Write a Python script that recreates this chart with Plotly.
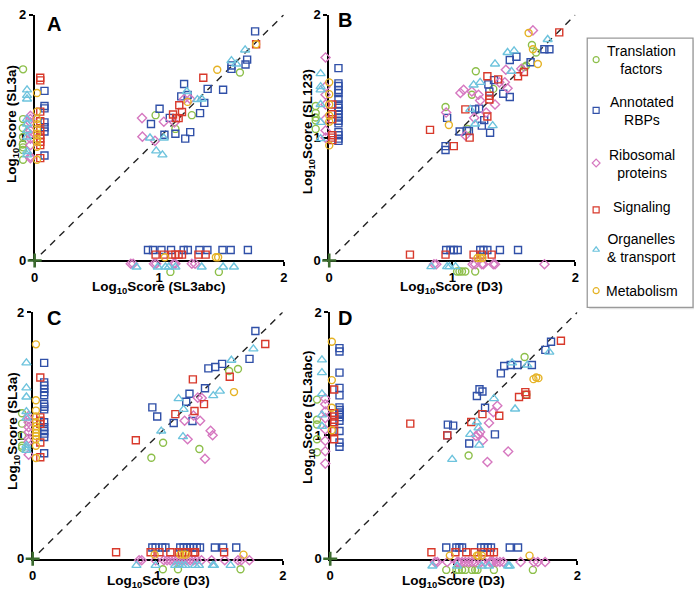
import plotly.graph_objects as go

# ---------------- categories / style ----------------
CATEGORIES = ["Translation factors", "Annotated RBPs", "Ribosomal proteins",
              "Signaling", "Organelles & transport", "Metabolism"]
LEGEND_TEXT = ["Translation<br>factors", "Annotated<br>RBPs", "Ribosomal<br>proteins",
               "Signaling", "Organelles<br>& transport", "Metabolism"]
COLORS = ["#8DBF4A", "#3050A8", "#D678C0", "#D8392B", "#6DC3DD", "#E5B224"]
SYMBOLS = ["circle-open", "square-open", "diamond-open", "square-open",
           "triangle-up-open", "circle-open"]
SIZES = [7, 7, 7, 7, 8, 7]

TICKS = [0, 1, 2]
TICK_LABELS = ["0", "1", "2"]
DIAG = [0.05, 2.0]
ORIGIN = [0]

PANEL_LABELS = ["A", "B", "C", "D"]
X_TITLES = ["SL3abc", "D3", "D3", "D3"]
Y_TITLES = ["SL3a", "SL123", "SL3a", "SL3abc"]

# ---------------- Panel A : SL3abc (x) vs SL3a (y) ----------------
A_TF = [(0.971, 1.183), (1.262, 1.183), (1.13, 1.071), (1.648, 1.53),
        (-0.093, 1.556), (-0.093, 1.151), (-0.095, 1.079), (-0.093, 1.005), (-0.095, 0.944),
        (-0.093, 0.921), (-0.095, 0.899), (-0.093, 0.82),
        (1.09, -0.093), (1.479, -0.093)]
A_RBP = [(1.77, 1.865), (1.706, 1.635), (1.693, 1.595), (1.58, 1.587), (1.58, 1.56),
         (1.513, 1.39), (1.389, 1.397), (1.2, 1.437), (1.228, 1.347), (1.177, 1.336),
         (1.362, 1.283), (1.003, 1.235), (1.085, 1.161), (1.328, 1.2), (0.934, 1.111),
         (1.042, 1.024), (1.13, 1.032), (1.249, 1.045), (1.209, 0.992),
         (0.079, 1.381), (0.079, 1.257), (0.079, 1.238), (0.079, 1.124), (0.079, 1.085),
         (0.079, 1.05), (0.079, 0.855),
         (0.91, 0.085), (0.95, 0.085), (1.018, 0.085), (1.095, 0.085), (1.196, 0.085),
         (1.23, 0.085), (1.323, 0.085), (1.387, 0.085), (1.508, 0.085), (1.574, 0.085),
         (1.712, 0.085)]
A_RIB = [(1.2, 1.315), (1.249, 1.315), (0.862, 1.159), (1.037, 1.13), (1.122, 1.124),
         (0.865, 1.008), (0.966, 0.974),
         (-0.034, 1.177), (-0.034, 1.151), (-0.034, 1.124), (-0.034, 1.058), (-0.034, 1.026),
         (-0.034, 0.992), (-0.034, 0.939), (-0.034, 0.847), (-0.034, 0.833),
         (0.772, -0.026), (0.791, -0.026), (0.958, -0.026), (0.976, -0.026), (1.116, -0.026),
         (1.13, -0.026), (1.262, -0.026), (1.288, -0.026)]
A_SIG = [(1.778, 1.76), (1.354, 1.487), (1.161, 1.264), (1.183, 1.209), (1.111, 1.188),
         (1.156, 1.159), (1.135, 1.16),
         (0.045, 1.487), (0.045, 1.466), (0.045, 1.212), (0.045, 1.133), (0.045, 1.058),
         (0.045, 1.019), (0.045, 0.992), (0.045, 0.966), (0.045, 0.939), (0.045, 0.833),
         (0.971, 0.048), (1.037, 0.048), (1.103, 0.048), (1.13, 0.048), (1.156, 0.048),
         (1.183, 0.048), (1.315, 0.048), (1.373, 0.048)]
A_ORG = [(1.69, 1.714), (1.58, 1.627), (1.619, 1.6), (1.222, 1.376), (1.307, 1.31),
         (1.341, 1.315), (0.926, 0.997), (1.037, 0.997), (0.976, 0.892), (1.026, 0.86),
         (-0.061, 1.389), (-0.061, 1.344), (-0.061, 1.315), (-0.061, 1.151), (-0.061, 1.111),
         (-0.061, 1.058), (-0.061, 1.005), (-0.061, 0.886), (-0.061, 0.86),
         (0.817, -0.053), (0.989, -0.053), (1.05, -0.053), (1.077, -0.053), (1.13, -0.053),
         (1.341, -0.053), (1.513, -0.053), (1.6, -0.053)]
A_MET = [(1.778, 1.76), (1.466, 1.553), (1.228, 1.291),
         (0.019, 1.363), (0.019, 1.212), (0.019, 1.151), (0.019, 1.11), (0.019, 1.071),
         (0.019, 1.032), (0.019, 0.992), (0.019, 0.966), (0.019, 0.926), (0.019, 0.82),
         (1.045, 0.026), (1.455, 0.026), (1.473, 0.026)]

# ---------------- Panel B : D3 (x) vs SL123 (y) ----------------
B_TF = [(1.647, 1.754), (1.681, 1.693), (1.588, 1.574), (1.6, 1.585), (1.191, 1.54),
        (1.159, 1.349), (1.333, 1.397), (0.945, 1.249), (1.124, 1.071),
        (-0.11, 1.257), (-0.11, 1.2), (-0.11, 1.164), (-0.11, 1.14), (-0.11, 1.071),
        (1.039, -0.09), (1.058, -0.09), (1.079, -0.09), (1.106, -0.09), (1.186, -0.09)]
B_RBP = [(1.748, 1.72), (1.789, 1.72), (1.636, 1.614), (1.467, 1.632), (1.521, 1.659),
         (1.339, 1.468), (1.293, 1.434), (1.301, 1.375), (1.414, 1.357), (1.467, 1.331),
         (1.186, 1.23), (1.218, 1.236), (0.958, 1.161), (1.259, 1.143), (1.24, 1.098),
         (1.06, 1.05), (1.119, 1.056), (1.307, 1.04), (0.945, 0.931), (0.945, 0.899),
         (1.135, 1.053),
         (0.075, 1.566), (0.075, 1.442), (0.075, 1.421), (0.075, 1.389), (0.075, 1.362),
         (0.075, 1.317), (0.075, 1.27), (0.075, 1.243), (0.075, 1.217), (0.075, 1.19),
         (0.075, 1.164), (0.075, 1.138), (0.075, 1.116), (0.075, 1.045), (0.075, 1.019),
         (0.075, 0.992), (0.075, 0.974),
         (0.95, 0.085), (0.985, 0.085), (1.012, 0.085), (1.044, 0.085), (1.227, 0.085),
         (1.253, 0.085), (1.285, 0.085), (1.387, 0.085), (1.534, 0.085)]
B_RIB = [(1.655, 1.873), (1.561, 1.56), (1.435, 1.553), (1.382, 1.45), (1.427, 1.45),
         (1.449, 1.402), (1.066, 1.364), (1.092, 1.389), (1.159, 1.376), (1.213, 1.349),
         (1.226, 1.302), (1.347, 1.27), (1.275, 1.204), (0.95, 1.204), (1.178, 1.161),
         (1.106, 1.018),
         (-0.03, 1.653), (-0.03, 1.415), (-0.03, 1.349), (-0.03, 1.27), (-0.03, 1.151),
         (-0.03, 1.058), (-0.03, 1.0),
         (0.851, -0.03), (0.87, -0.03), (1.165, -0.03), (1.186, -0.03), (1.24, -0.03),
         (1.253, -0.03), (1.333, -0.03), (1.347, -0.03), (1.749, -0.03)]
B_SIG = [(1.869, 1.857), (1.582, 1.534), (1.534, 1.5), (1.285, 1.5), (1.373, 1.474),
         (1.301, 1.341), (1.301, 1.31), (1.106, 1.23), (1.285, 1.172), (0.819, 1.063),
         (1.141, 1.0), (1.012, 0.931),
         (0.025, 1.27), (0.025, 1.19), (0.025, 1.15), (0.025, 1.02), (0.025, 1.0), (0.025, 0.98),
         (0.656, 0.048), (0.945, 0.048), (1.173, 0.048), (1.24, 0.048), (1.32, 0.048)]
B_ORG = [(1.775, 1.799), (1.449, 1.693), (1.502, 1.706), (1.347, 1.6), (1.481, 1.54),
         (1.173, 1.429), (1.226, 1.45), (1.146, 1.23), (1.186, 1.111), (1.328, 1.098),
         (-0.07, 1.521), (-0.07, 1.415), (-0.07, 1.389), (-0.07, 1.27), (-0.07, 1.124),
         (-0.07, 0.992),
         (0.83, -0.05), (0.958, -0.05), (0.977, -0.05), (1.026, -0.05)]
B_MET = [(1.62, 1.852), (1.655, 1.72), (1.695, 1.6), (0.972, 1.103),
         (0.0, 1.45), (0.0, 1.354), (0.0, 1.27), (0.0, 1.18), (0.0, 1.13), (0.0, 0.937),
         (1.205, 0.02), (1.227, 0.02), (1.245, 0.02)]

# ---------------- Panel C : D3 (x) vs SL3a (y) ----------------
C_TF = [(1.571, 1.523), (1.642, 1.539), (1.043, 0.941), (1.333, 0.891), (0.949, 0.82),
        (-0.085, 1.18), (-0.085, 1.096), (-0.085, 1.0), (-0.085, 0.917), (-0.085, 0.9),
        (1.041, -0.084), (1.162, -0.084), (1.662, -0.084)]
C_RBP = [(1.781, 1.847), (1.734, 1.621), (1.405, 1.544), (1.46, 1.555), (1.515, 1.581),
         (1.378, 1.383), (1.254, 1.339), (1.228, 1.273), (0.957, 1.228), (0.996, 1.154),
         (1.128, 1.101), (1.278, 1.117),
         (0.092, 1.589), (0.092, 1.431), (0.092, 1.405), (0.092, 1.378), (0.092, 1.352),
         (0.092, 1.326), (0.092, 1.255), (0.092, 1.233), (0.092, 1.212), (0.092, 1.107),
         (0.092, 1.067), (0.092, 1.036), (0.092, 1.015), (0.092, 0.988), (0.092, 0.856),
         (0.957, 0.092), (0.983, 0.092), (1.036, 0.092), (1.062, 0.092), (1.18, 0.092),
         (1.207, 0.092), (1.233, 0.092), (1.259, 0.092), (1.286, 0.092), (1.312, 0.092),
         (1.338, 0.092), (1.457, 0.092), (1.523, 0.092), (1.628, 0.092)]
C_RIB = [(1.32, 1.307), (1.352, 1.304), (1.286, 1.162), (1.215, 1.12), (1.339, 1.12),
         (1.423, 1.038), (1.439, 1.002), (1.239, 0.97), (1.378, 0.812),
         (-0.032, 1.159), (-0.032, 1.133), (-0.032, 1.107), (-0.032, 1.067), (-0.032, 1.028),
         (-0.032, 0.976), (-0.032, 0.949), (-0.032, 0.844),
         (0.851, -0.012), (0.872, -0.012), (0.983, -0.012), (1.049, -0.012), (1.075, -0.012),
         (1.1, -0.012), (1.128, -0.012), (1.155, -0.012), (1.181, -0.012), (1.207, -0.012),
         (1.233, -0.012), (1.26, -0.012), (1.286, -0.012), (1.312, -0.012), (1.35, -0.012),
         (1.431, -0.012), (1.536, -0.012), (1.642, -0.012), (1.668, -0.012), (1.733, -0.012)]
C_SIG = [(1.86, 1.742), (1.576, 1.476), (1.281, 1.455), (1.37, 1.254), (1.294, 1.199),
         (1.141, 1.173), (0.825, 0.962),
         (0.061, 1.47), (0.061, 1.147), (0.061, 1.12), (0.061, 1.094), (0.061, 0.943),
         (0.061, 0.824),
         (0.667, 0.053), (0.943, 0.053), (1.014, 0.053), (1.101, 0.053), (1.168, 0.053),
         (1.194, 0.053), (1.22, 0.053), (1.286, 0.053), (1.299, 0.053), (1.531, 0.053)]
C_ORG = [(1.765, 1.702), (1.589, 1.61), (1.444, 1.323), (1.497, 1.36), (1.167, 1.299),
         (1.207, 1.212), (1.028, 1.036), (1.202, 0.991),
         (-0.05, 1.589), (-0.05, 1.386), (-0.05, 1.312), (-0.05, 1.194), (-0.05, 1.141),
         (-0.05, 0.92), (-0.05, 0.9), (-0.05, 0.88),
         (0.83, -0.053), (0.983, -0.053), (1.14, -0.053), (1.167, -0.053), (1.194, -0.053),
         (1.22, -0.053), (1.299, -0.053), (1.33, -0.053), (1.44, -0.053), (1.45, -0.053),
         (1.583, -0.053)]
C_MET = [(1.61, 1.352),
         (0.026, 1.739), (0.026, 1.286), (0.026, 1.202), (0.026, 1.154), (0.026, 1.107),
         (0.026, 1.075), (0.026, 1.049), (0.026, 1.02), (0.026, 0.996), (0.026, 0.97),
         (0.026, 0.917), (0.026, 0.817),
         (0.975, 0.034), (1.181, 0.034), (1.207, 0.034), (1.226, 0.034), (1.686, 0.034)]

# ---------------- Panel D : D3 (x) vs SL3abc (y) ----------------
D_TF = [(1.573, 1.636), (1.587, 1.33), (1.12, 0.838),
        (-0.107, 1.291), (-0.107, 1.128), (-0.107, 1.089), (-0.107, 0.97), (-0.107, 0.864),
        (0.939, -0.09), (1.021, -0.09), (1.04, -0.09), (1.067, -0.09), (1.093, -0.09),
        (1.147, -0.09), (1.173, -0.09), (1.192, -0.09), (1.325, -0.09), (1.64, -0.09)]
D_RBP = [(1.787, 1.76), (1.741, 1.694), (1.381, 1.504), (1.408, 1.563), (1.461, 1.571),
         (1.515, 1.571), (1.632, 1.571), (1.208, 1.375), (1.232, 1.357), (1.187, 1.32),
         (1.253, 1.225), (0.952, 1.088), (0.995, 1.08), (0.947, 1.001), (1.333, 1.009),
         (1.125, 0.935),
         (0.075, 1.708), (0.075, 1.681), (0.075, 1.51), (0.075, 1.386), (0.075, 1.325),
         (0.075, 1.228), (0.075, 1.207), (0.075, 1.186), (0.075, 1.167), (0.075, 1.149),
         (0.075, 1.12), (0.075, 1.036), (0.075, 0.943), (0.075, 0.909),
         (0.939, 0.092), (1.021, 0.092), (1.045, 0.092), (1.067, 0.092), (1.221, 0.092),
         (1.248, 0.092), (1.275, 0.092), (1.301, 0.092), (1.453, 0.092), (1.52, 0.092)]
D_RIB = [(1.352, 1.241), (1.32, 1.188), (1.285, 1.101), (1.213, 1.028), (1.2, 1.009),
         (1.179, 0.996), (1.235, 0.962), (1.44, 0.87), (1.272, 0.785),
         (-0.04, 1.299), (-0.04, 1.254), (-0.04, 1.194), (-0.04, 1.141), (-0.04, 1.049),
         (-0.04, 0.957), (-0.04, 0.872), (-0.04, 0.772),
         (0.848, -0.026), (0.867, -0.026), (0.947, -0.026), (1.027, -0.026), (1.04, -0.026),
         (1.067, -0.026), (1.093, -0.026), (1.12, -0.026), (1.147, -0.026), (1.173, -0.026),
         (1.221, -0.026), (1.248, -0.026), (1.293, -0.026), (1.307, -0.026), (1.32, -0.026),
         (1.347, -0.026), (1.373, -0.026), (1.4, -0.026), (1.541, -0.026), (1.648, -0.026),
         (1.68, -0.026), (1.739, -0.026)]
D_SIG = [(1.867, 1.768), (1.579, 1.352), (1.528, 1.312), (1.587, 1.33), (1.368, 1.16),
         (1.232, 1.173), (1.141, 1.109), (0.648, 1.096), (0.947, 1.001),
         (0.032, 1.373), (0.032, 1.18), (0.032, 1.154), (0.032, 1.128), (0.032, 1.107),
         (0.032, 1.036), (0.032, 0.97),
         (0.819, 0.053), (1.013, 0.053), (1.101, 0.053), (1.168, 0.053), (1.24, 0.053),
         (1.293, 0.053), (1.325, 0.053)]
D_ORG = [(1.773, 1.676), (1.472, 1.589), (1.595, 1.571), (1.325, 1.299), (1.496, 1.215),
         (1.187, 1.109), (1.2, 1.062), (1.133, 1.009), (1.205, 0.922), (0.987, 0.806),
         (-0.067, 1.613), (-0.067, 1.51), (-0.067, 1.338), (-0.067, 1.167), (-0.067, 1.075),
         (0.827, -0.058), (1.027, -0.058), (1.227, -0.058), (1.285, -0.058), (1.44, -0.058),
         (1.453, -0.058)]
D_MET = [(1.645, 1.457), (1.667, 1.47), (1.685, 1.465),
         (0.013, 1.76), (0.013, 1.449), (0.013, 1.225), (0.013, 1.043),
         (0.968, 0.026), (1.187, 0.026), (1.2, 0.026), (1.227, 0.026), (1.613, 0.026)]

PANEL_DATA = [
    [A_TF, A_RBP, A_RIB, A_SIG, A_ORG, A_MET],
    [B_TF, B_RBP, B_RIB, B_SIG, B_ORG, B_MET],
    [C_TF, C_RBP, C_RIB, C_SIG, C_ORG, C_MET],
    [D_TF, D_RBP, D_RIB, D_SIG, D_ORG, D_MET],
]

# ---------------- layout geometry (pixels) ----------------
W, H = 698, 599
# plot rectangles of the 0..2 region: (left, right, top, bottom) in px
RECTS = [(31, 283, 8, 260), (329, 578, 8, 260), (29, 282, 313, 566), (330, 580, 313, 566)]
PAD = dict(l=22, r=8, t=6, b=18)   # extra room for the jittered zero-columns
LETTER_POS = [(41, 17), (336, 13), (41, 319), (336, 319)]
XTITLE_POS = [(157, 288), (453, 288), (156, 589), (455, 589)]
YTITLE_POS = [(9, 120), (308, 128), (9, 435), (308, 420)]

fig = go.Figure()
FONT = "Arial, Liberation Sans, Helvetica, sans-serif"

for p in range(4):
    l, r, t, b = RECTS[p]
    # display axes (visible, 0..2)
    dax = str(p + 1)
    axis_common = dict(range=[0, 2], tickvals=TICKS, ticktext=TICK_LABELS,
                       showline=True, linecolor="black", linewidth=1.8,
                       ticks="outside", ticklen=4, tickwidth=1.6, tickcolor="black",
                       showgrid=False, zeroline=False, fixedrange=True,
                       layer="below traces",
                       tickfont=dict(family=FONT, size=13, color="black", weight="bold"))
    fig.layout["xaxis" + dax] = dict(domain=[l / W, r / W], anchor="y" + dax, **axis_common)
    fig.layout["yaxis" + dax] = dict(domain=[1 - b / H, 1 - t / H], anchor="x" + dax,
                                     **axis_common)
    dx, dy = "x" + dax, "y" + dax
    # diagonal y = x and origin marker on the display axes
    fig.add_trace(go.Scatter(x=DIAG, y=DIAG, mode="lines", xaxis=dx, yaxis=dy,
                             showlegend=False, hoverinfo="skip",
                             line=dict(color="#222222", width=1.4, dash="7px,6px")))
    fig.add_trace(go.Scatter(x=ORIGIN, y=ORIGIN, mode="markers", xaxis=dx, yaxis=dy,
                             showlegend=False, cliponaxis=False, hoverinfo="skip",
                             marker=dict(symbol="cross-thin", size=10,
                                         line=dict(width=2.6, color="#3B6B2E"))))
    # data axes (invisible, same scale, extended range)
    sx = (r - l) / 2.0
    sy = (b - t) / 2.0
    nax = str(p + 5)
    fig.layout["xaxis" + nax] = dict(domain=[(l - PAD["l"]) / W, (r + PAD["r"]) / W],
                                     range=[-PAD["l"] / sx, 2 + PAD["r"] / sx],
                                     visible=False, fixedrange=True, anchor="y" + nax)
    fig.layout["yaxis" + nax] = dict(domain=[1 - (b + PAD["b"]) / H, 1 - (t - PAD["t"]) / H],
                                     range=[-PAD["b"] / sy, 2 + PAD["t"] / sy],
                                     visible=False, fixedrange=True, anchor="x" + nax)
    xref, yref = "x" + nax, "y" + nax
    for c in range(6):
        pts = PANEL_DATA[p][c]
        fig.add_trace(go.Scatter(
            x=[q[0] for q in pts], y=[q[1] for q in pts], mode="markers",
            xaxis=xref, yaxis=yref, showlegend=False, cliponaxis=False,
            name=CATEGORIES[c],
            marker=dict(symbol=SYMBOLS[c], size=SIZES[c], color=COLORS[c],
                        line=dict(width=1.4, color=COLORS[c]))))

# overlay pixel axis for legend & annotations
fig.layout["xaxis9"] = dict(domain=[0, 1], range=[0, W], visible=False, fixedrange=True,
                            anchor="y9")
fig.layout["yaxis9"] = dict(domain=[0, 1], range=[H, 0], visible=False, fixedrange=True,
                            anchor="x9")

# legend box
fig.add_shape(type="rect", xref="x9", yref="y9", x0=592, x1=699, y0=34, y1=310,
              line=dict(width=0), fillcolor="rgba(0,0,0,0.12)", layer="below")
fig.add_shape(type="rect", xref="x9", yref="y9", x0=590, x1=697, y0=32, y1=308,
              line=dict(width=1.3, color="#9a9a9a"), fillcolor="white", layer="below")

LEG_MARK_Y = [54, 106, 160, 208, 249, 291]
LEG_TEXT_Y = [54, 107, 161, 205, 247, 291]
LEG_MARK_X = 599
LEG_TEXT_X = 645
for c in range(6):
    fig.add_trace(go.Scatter(
        x=[LEG_MARK_X], y=[LEG_MARK_Y[c]], mode="markers", xaxis="x9", yaxis="y9",
        showlegend=False, cliponaxis=False, hoverinfo="skip",
        marker=dict(symbol=SYMBOLS[c], size=6, color=COLORS[c],
                    line=dict(width=1.2, color=COLORS[c]))))
    fig.add_annotation(x=LEG_TEXT_X, y=LEG_TEXT_Y[c], xref="x9", yref="y9",
                       text=LEGEND_TEXT[c], showarrow=False, align="center",
                       xanchor="center", yanchor="middle",
                       font=dict(family=FONT, size=14, color="black"))

for p in range(4):
    lx, ly = LETTER_POS[p]
    fig.add_annotation(x=lx, y=ly, xref="x9", yref="y9", text="<b>%s</b>" % PANEL_LABELS[p],
                       showarrow=False, xanchor="left", yanchor="middle",
                       font=dict(family=FONT, size=20, color="black"))
    tx, ty = XTITLE_POS[p]
    fig.add_annotation(x=tx, y=ty, xref="x9", yref="y9",
                       text="<b>Log<sub>10</sub>Score (%s)</b>" % X_TITLES[p],
                       showarrow=False, xanchor="center", yanchor="middle",
                       font=dict(family=FONT, size=13.5, color="black"))
    yx, yy = YTITLE_POS[p]
    fig.add_annotation(x=yx, y=yy, xref="x9", yref="y9",
                       text="<b>Log<sub>10</sub>Score (%s)</b>" % Y_TITLES[p],
                       showarrow=False, textangle=-90, xanchor="center", yanchor="middle",
                       font=dict(family=FONT, size=13.5, color="black"))

fig.update_layout(width=W, height=H, margin=dict(l=0, r=0, t=0, b=0),
                  paper_bgcolor="white", plot_bgcolor="rgba(0,0,0,0)",
                  showlegend=False)

fig.write_html("out.html", config={"displayModeBar": False},
               post_script="document.body.style.margin='0';document.body.style.padding='0';")
